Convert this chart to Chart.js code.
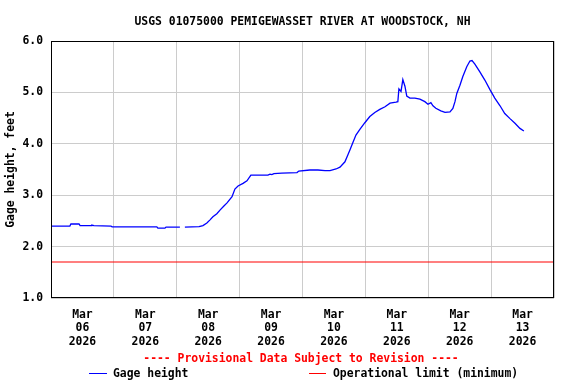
<!DOCTYPE html>
<html>
<head>
<meta charset="utf-8">
<script src="https://cdn.jsdelivr.net/npm/chart.js@4"></script>
<style>
  body { margin: 0; background: #fff; }
</style>
</head>
<body>
<canvas id="myChart" width="576" height="384"></canvas>
<script>
// data: hours since Mar 06 2026 00:00, gage height in feet
const hours = [0, 7.2, 7.6, 10.7, 11.1, 15.3, 15.6, 16.4, 22.9, 23.3, 40.4, 40.8, 43.5, 43.9, 49.2, 50.2,
  51.1, 56.5, 58, 59.5, 60.7, 61.8, 63.3, 64.5, 66, 67.2, 69.1, 70.2, 71.4, 73.3, 74.8, 76.3,
  82.8, 83.6, 84.3, 85.1, 88.1, 93.9, 94.6, 98.8, 101.9, 104.6, 106.5, 108.8, 110.3, 112.2,
  113.3, 114.1, 115.2, 116.4, 117.9, 119.8, 121.7, 123.6, 125.5, 127.5, 129.4, 131.7, 132.4,
  132.8, 133.6, 134.3, 135.1, 135.8, 137, 138.9, 140.8, 142.7, 143.9, 145, 145.8, 146.9,
  148.8, 150.4, 152.3, 153.4, 154.2, 154.9, 156.1, 157.2, 158.7, 159.9, 160.7, 161.8, 163.7,
  165.6, 167.5, 169.4, 171.4, 173.2, 175.2, 177.1, 179, 180.5];
const gageHeight = [2.40, 2.40, 2.44, 2.44, 2.41, 2.41, 2.42, 2.41, 2.40, 2.385, 2.385, 2.36, 2.36, 2.38, 2.38, null,
  2.38, 2.39, 2.41, 2.46, 2.52, 2.58, 2.64, 2.71, 2.79, 2.85, 2.97, 3.12, 3.18, 3.23, 3.28, 3.39,
  3.39, 3.41, 3.40, 3.42, 3.43, 3.44, 3.47, 3.49, 3.49, 3.48, 3.48, 3.51, 3.545, 3.65,
  3.78, 3.88, 4.02, 4.17, 4.28, 4.41, 4.53, 4.61, 4.67, 4.72, 4.79, 4.81, 4.82,
  5.07, 5.02, 5.25, 5.12, 4.93, 4.89, 4.89, 4.87, 4.82, 4.77, 4.80, 4.74, 4.69,
  4.64, 4.61, 4.62, 4.69, 4.82, 4.98, 5.14, 5.31, 5.50, 5.61, 5.62, 5.55, 5.40,
  5.24, 5.06, 4.89, 4.74, 4.59, 4.49, 4.40, 4.30, 4.25];
const operationalLimit = 1.7;
const dayLabels = ['06', '07', '08', '09', '10', '11', '12', '13'];
const yTicks = [1, 2, 3, 4, 5, 6];

const FONT = '"DejaVu Sans Mono", monospace';
const font = { family: FONT, size: 11.4, weight: 'bold' };

const gageData = hours.map((h, i) => ({ x: h, y: gageHeight[i] }));

// title, box around plot, bottom legend
const extras = {
  id: 'extras',
  afterDraw(chart) {
    const c = chart.ctx;
    const a = chart.chartArea;
    c.save();
    c.strokeStyle = '#000';
    c.lineWidth = 1;
    c.strokeRect(Math.round(a.left) + 0.5, Math.round(a.top) + 0.5,
      Math.round(a.right - a.left) - 1, Math.round(a.bottom - a.top) - 1);

    c.font = 'bold 11.4px ' + FONT;
    c.textBaseline = 'middle';
    c.textAlign = 'center';
    c.fillStyle = '#000';
    c.fillText('USGS 01075000 PEMIGEWASSET RIVER AT WOODSTOCK, NH', (a.left + a.right) / 2, 22);

    c.fillStyle = '#ff0000';
    c.fillText('---- Provisional Data Subject to Revision ----', 301, 359);

    c.textAlign = 'left';
    c.fillStyle = '#000';
    c.fillText('Gage height', 113, 374);
    c.fillText('Operational limit (minimum)', 333, 374);
    c.beginPath();
    c.strokeStyle = '#0000ff';
    c.moveTo(89, 373.5);
    c.lineTo(107, 373.5);
    c.stroke();
    c.beginPath();
    c.strokeStyle = '#ff0000';
    c.moveTo(309, 373.5);
    c.lineTo(326, 373.5);
    c.stroke();
    c.restore();
  }
};

const ctx = document.getElementById('myChart');

const chart = new Chart(ctx, {
  type: 'line',
  data: {
    datasets: [{
      label: 'Gage height',
      data: gageData,
      borderColor: '#0000ff',
      borderWidth: 1.3,
      pointRadius: 0,
      spanGaps: false
    }, {
      label: 'Operational limit (minimum)',
      data: [{ x: 0, y: operationalLimit }, { x: 192, y: operationalLimit }],
      borderColor: '#ff0000',
      borderWidth: 1.2,
      pointRadius: 0
    }]
  },
  plugins: [extras],
  options: {
    responsive: false,
    animation: false,
    layout: { padding: { left: 0, right: 22, top: 41, bottom: 36 } },
    plugins: {
      legend: { display: false },
      tooltip: { enabled: false },
      title: { display: false }
    },
    scales: {
      x: {
        type: 'linear',
        min: 0,
        max: 192,
        afterBuildTicks(scale) {
          const t = [];
          for (let h = 0; h <= 192; h += 12) t.push({ value: h });
          scale.ticks = t;
        },
        afterFit(scale) { scale.height = 50; },
        ticks: {
          autoSkip: false,
          maxRotation: 0,
          padding: 10,
          color: '#000',
          font: font,
          callback: (v) => (v % 24 === 12 ? ['Mar', dayLabels[(v - 12) / 24], '2026'] : '')
        },
        grid: {
          drawTicks: false,
          color: (c) => (c.tick && c.tick.value % 24 === 0 ? '#cccccc' : 'rgba(0,0,0,0)')
        },
        border: { display: false }
      },
      y: {
        min: 1,
        max: 6,
        afterBuildTicks(scale) {
          scale.ticks = yTicks.map(v => ({ value: v }));
        },
        afterFit(scale) { scale.width = 51; },
        ticks: {
          padding: 8,
          color: '#000',
          font: font,
          callback: (v) => v.toFixed(1)
        },
        grid: { drawTicks: false, color: '#cccccc' },
        border: { display: false },
        title: {
          display: true,
          text: 'Gage height, feet',
          color: '#000',
          font: font,
          padding: { top: 4, bottom: 0 }
        }
      }
    }
  }
});
</script>
</body>
</html>
